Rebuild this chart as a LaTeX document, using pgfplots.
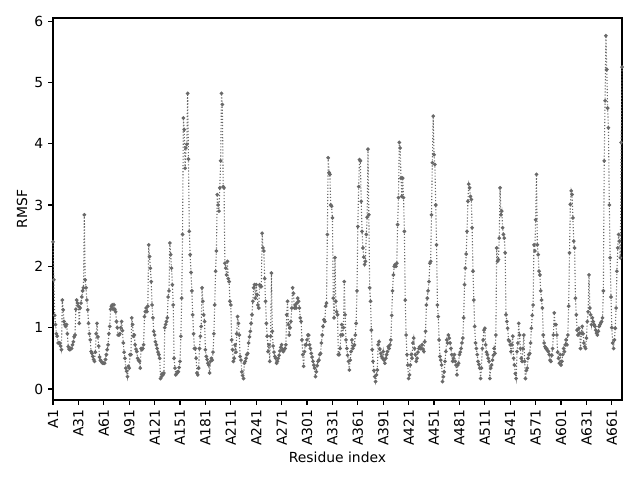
\documentclass[border=0pt]{standalone}
\usepackage{fontspec}
\setmainfont{DejaVu Sans}
\usepackage{pgfplots}
\pgfplotsset{compat=1.18}
\definecolor{linegray}{RGB}{105,105,105}
\begin{document}
\begin{tikzpicture}
\useasboundingbox (-38.16pt,-57.6pt) rectangle (422.64pt,288pt);
\begin{axis}[
  at={(0,0)}, anchor=south west,
  scale only axis,
  width=409.68pt, height=275.04pt,
  xmin=0, xmax=672,
  ymin=-0.18, ymax=6.05,
  xtick={0,30,...,660},
  xticklabels={A1,A31,A61,A91,A121,A151,A181,A211,A241,A271,A301,A331,A361,A391,A421,A451,A481,A511,A541,A571,A601,A631,A661},
  ytick={0,1,2,3,4,5,6},
  tick align=outside,
  tick pos=left,
  major tick length=3.5pt,
  axis line style={line width=0.8pt},
  every tick/.style={black, line width=0.8pt},
  /pgf/number format/assume math mode=true,
  tick label style={font=\fontsize{10}{12}\selectfont},
  xticklabel style={rotate=90, anchor=east, inner sep=0pt, outer sep=3.5pt},
  yticklabel style={inner sep=0pt, outer sep=3.5pt},
  label style={font=\fontsize{10}{12}\selectfont},
  xlabel={Residue index},
  ylabel={RMSF},
  xlabel style={at={(axis description cs:0.5,-0.149)}, anchor=center},
  ylabel style={at={(axis description cs:-0.0545,0.5)}, anchor=center},
  clip=false,
]
\addplot[linegray, line width=0.8pt, dash pattern=on 0.8pt off 1.4pt, mark=*, mark size=0.9pt, mark options={solid, fill=linegray, draw=linegray}] coordinates {
(0,2.4)(1,1.78)(2,1.2)(3,1.05)(4,0.9)(5,0.86)(6,0.75)(7,0.75)(8,0.75)(9,0.7)
(10,0.64)(11,1.45)(12,1.29)(13,1.1)(14,1.05)(15,1.02)(16,1.05)(17,0.9)(18,0.69)(19,0.65)
(20,0.64)(21,0.66)(22,0.66)(23,0.72)(24,0.77)(25,0.85)(26,0.88)(27,1.3)(28,1.45)(29,1.4)
(30,1.35)(31,1.07)(32,1.32)(33,1.4)(34,1.5)(35,1.6)(36,1.65)(37,2.84)(38,1.78)(39,1.65)
(40,1.45)(41,1.29)(42,1.07)(43,0.9)(44,0.8)(45,0.61)(46,0.58)(47,0.53)(48,0.48)(49,0.45)
(50,0.6)(51,0.9)(52,1.07)(53,0.85)(54,0.7)(55,0.52)(56,0.47)(57,0.45)(58,0.43)(59,0.42)
(60,0.42)(61,0.42)(62,0.48)(63,0.56)(64,0.64)(65,0.72)(66,0.9)(67,1.02)(68,1.3)(69,1.35)
(70,1.37)(71,1.3)(72,1.37)(73,1.3)(74,1.26)(75,1.1)(76,1.0)(77,0.88)(78,0.88)(79,0.9)
(80,1.0)(81,1.1)(82,0.95)(83,0.75)(84,0.6)(85,0.5)(86,0.34)(87,0.29)(88,0.2)(89,0.37)
(90,0.34)(91,0.56)(92,0.56)(93,1.16)(94,1.05)(95,0.86)(96,0.88)(97,0.72)(98,0.65)(99,0.61)
(100,0.5)(101,0.47)(102,0.45)(103,0.34)(104,0.66)(105,0.64)(106,0.66)(107,0.72)(108,1.18)(109,1.26)
(110,1.32)(111,1.26)(112,1.35)(113,2.35)(114,2.16)(115,1.97)(116,1.75)(117,1.37)(118,1.16)(119,0.94)
(120,0.88)(121,0.77)(122,0.72)(123,0.66)(124,0.6)(125,0.56)(126,0.5)(127,0.17)(128,0.2)(129,0.25)
(130,0.23)(131,0.26)(132,1.0)(133,1.05)(134,1.1)(135,1.16)(136,1.5)(137,1.6)(138,2.38)(139,2.19)
(140,1.97)(141,1.7)(142,1.37)(143,0.5)(144,0.34)(145,0.23)(146,0.25)(147,0.28)(148,0.28)(149,0.35)
(150,0.45)(151,0.86)(152,1.48)(153,2.52)(154,4.42)(155,4.23)(156,3.6)(157,3.93)(158,3.99)(159,4.82)
(160,3.75)(161,2.57)(162,2.19)(163,1.9)(164,1.6)(165,1.21)(166,0.9)(167,0.66)(168,0.66)(169,0.5)
(170,0.26)(171,0.23)(172,0.34)(173,0.66)(174,0.86)(175,1.02)(176,1.65)(177,1.43)(178,1.21)(179,1.1)
(180,0.64)(181,0.53)(182,0.48)(183,0.42)(184,0.39)(185,0.26)(186,0.45)(187,0.5)(188,0.47)(189,0.6)
(190,0.9)(191,1.37)(192,1.92)(193,2.25)(194,3.17)(195,3.0)(196,2.9)(197,3.28)(198,3.72)(199,4.82)
(200,4.64)(201,3.3)(202,3.28)(203,2.05)(204,1.97)(205,1.86)(206,2.08)(207,1.8)(208,1.75)(209,1.43)
(210,1.37)(211,0.8)(212,0.64)(213,0.45)(214,0.5)(215,0.72)(216,0.6)(217,0.9)(218,1.18)(219,1.07)
(220,0.88)(221,0.53)(222,0.47)(223,0.28)(224,0.22)(225,0.17)(226,0.42)(227,0.45)(228,0.5)(229,0.56)
(230,0.58)(231,0.75)(232,0.85)(233,0.94)(234,1.07)(235,1.21)(236,1.43)(237,1.65)(238,1.7)(239,1.48)
(240,1.7)(241,1.54)(242,1.37)(243,1.32)(244,1.7)(245,1.67)(246,1.67)(247,2.54)(248,2.3)(249,2.25)
(250,1.8)(251,1.43)(252,1.07)(253,0.86)(254,0.61)(255,0.72)(256,0.45)(257,0.86)(258,1.89)(259,0.94)
(260,0.7)(261,0.6)(262,0.53)(263,0.5)(264,0.42)(265,0.45)(266,0.5)(267,0.55)(268,0.62)(269,0.68)
(270,0.72)(271,0.64)(272,0.61)(273,0.64)(274,0.66)(275,0.72)(276,1.21)(277,1.43)(278,1.05)(279,0.88)
(280,1.0)(281,1.1)(282,1.32)(283,1.65)(284,1.56)(285,1.32)(286,1.37)(287,1.32)(288,1.4)(289,1.48)
(290,1.43)(291,1.32)(292,1.16)(293,1.1)(294,0.8)(295,0.56)(296,0.37)(297,0.61)(298,0.72)(299,0.72)
(300,0.8)(301,0.88)(302,0.88)(303,0.72)(304,0.66)(305,0.58)(306,0.52)(307,0.45)(308,0.39)(309,0.34)
(310,0.2)(311,0.28)(312,0.38)(313,0.45)(314,0.47)(315,0.56)(316,0.58)(317,0.75)(318,0.88)(319,1.02)
(320,1.13)(321,1.1)(322,1.35)(323,1.4)(324,2.52)(325,3.77)(326,3.53)(327,3.5)(328,3.0)(329,2.98)
(330,2.79)(331,1.48)(332,1.16)(333,2.14)(334,1.43)(335,1.26)(336,1.21)(337,0.56)(338,0.56)(339,0.66)
(340,0.88)(341,1.05)(342,0.88)(343,1.0)(344,1.75)(345,1.21)(346,0.8)(347,0.66)(348,0.55)(349,0.45)
(350,0.31)(351,0.47)(352,0.61)(353,0.8)(354,0.66)(355,0.7)(356,0.72)(357,0.88)(358,1.07)(359,1.6)
(360,2.65)(361,3.3)(362,3.74)(363,3.72)(364,3.06)(365,2.57)(366,2.3)(367,2.15)(368,2.03)(369,2.08)
(370,2.52)(371,2.8)(372,3.91)(373,2.84)(374,1.65)(375,1.43)(376,0.96)(377,0.64)(378,0.45)(379,0.3)
(380,0.2)(381,0.12)(382,0.23)(383,0.31)(384,0.72)(385,0.77)(386,0.65)(387,0.58)(388,0.53)(389,0.5)
(390,0.61)(391,0.47)(392,0.42)(393,0.5)(394,0.56)(395,0.61)(396,0.69)(397,0.66)(398,0.72)(399,0.8)
(400,1.2)(401,1.6)(402,1.86)(403,2.0)(404,2.03)(405,2.0)(406,2.05)(407,2.68)(408,3.12)(409,4.02)
(410,3.93)(411,3.44)(412,3.14)(413,3.44)(414,3.12)(415,2.57)(416,1.45)(417,0.88)(418,0.56)(419,0.39)
(420,0.17)(421,0.23)(422,0.39)(423,0.56)(424,0.5)(425,0.75)(426,0.83)(427,0.66)(428,0.56)(429,0.45)
(430,0.5)(431,0.6)(432,0.66)(433,0.69)(434,0.66)(435,0.66)(436,0.72)(437,0.65)(438,0.61)(439,0.77)
(440,0.94)(441,1.37)(442,1.48)(443,1.6)(444,1.75)(445,2.05)(446,2.08)(447,2.84)(448,3.69)(449,4.45)
(450,3.82)(451,3.66)(452,3.0)(453,2.35)(454,1.37)(455,1.18)(456,0.8)(457,0.53)(458,0.47)(459,0.39)
(460,0.12)(461,0.2)(462,0.28)(463,0.45)(464,0.61)(465,0.8)(466,0.75)(467,0.88)(468,0.83)(469,0.75)
(470,0.66)(471,0.56)(472,0.45)(473,0.5)(474,0.56)(475,0.45)(476,0.39)(477,0.23)(478,0.39)(479,0.42)
(480,0.56)(481,0.6)(482,0.66)(483,0.75)(484,0.83)(485,1.16)(486,1.7)(487,1.97)(488,2.2)(489,2.57)
(490,3.06)(491,3.34)(492,3.28)(493,3.14)(494,3.09)(495,2.63)(496,1.92)(497,1.45)(498,1.02)(499,0.75)
(500,0.66)(501,0.56)(502,0.45)(503,0.4)(504,0.34)(505,0.17)(506,0.34)(507,0.66)(508,0.8)(509,0.96)
(510,0.99)(511,0.72)(512,0.6)(513,0.56)(514,0.5)(515,0.45)(516,0.17)(517,0.34)(518,0.39)(519,0.47)
(520,0.55)(521,0.66)(522,0.58)(523,0.88)(524,2.3)(525,2.08)(526,2.11)(527,2.46)(528,3.28)(529,2.84)
(530,2.9)(531,2.63)(532,2.52)(533,2.46)(534,2.22)(535,1.21)(536,1.1)(537,0.99)(538,0.8)(539,0.78)
(540,0.72)(541,0.61)(542,0.72)(543,0.86)(544,0.5)(545,0.39)(546,0.25)(547,0.17)(548,0.61)(549,0.75)
(550,1.07)(551,0.88)(552,0.66)(553,0.5)(554,0.45)(555,0.66)(556,0.88)(557,0.45)(558,0.17)(559,0.3)
(560,0.34)(561,0.5)(562,0.56)(563,0.58)(564,0.75)(565,0.99)(566,1.2)(567,1.37)(568,2.35)(569,2.25)
(570,2.76)(571,3.5)(572,2.35)(573,2.19)(574,1.92)(575,1.86)(576,1.6)(577,1.45)(578,1.32)(579,0.88)
(580,0.75)(581,0.69)(582,0.66)(583,0.66)(584,0.63)(585,0.61)(586,0.56)(587,0.47)(588,0.45)(589,0.55)
(590,0.66)(591,0.88)(592,1.24)(593,1.05)(594,1.05)(595,0.88)(596,0.6)(597,0.5)(598,0.42)(599,0.56)
(600,0.39)(601,0.45)(602,0.56)(603,0.66)(604,0.61)(605,0.72)(606,0.8)(607,0.72)(608,0.88)(609,1.35)
(610,2.22)(611,3.01)(612,3.23)(613,3.17)(614,2.79)(615,2.41)(616,2.3)(617,1.48)(618,1.21)(619,0.96)
(620,0.88)(621,0.99)(622,0.91)(623,0.66)(624,0.91)(625,1.02)(626,0.9)(627,0.75)(628,0.69)(629,0.66)
(630,0.83)(631,1.1)(632,1.26)(633,1.86)(634,1.32)(635,1.21)(636,1.05)(637,1.16)(638,1.1)(639,1.05)
(640,1.02)(641,0.96)(642,0.91)(643,0.88)(644,0.94)(645,1.02)(646,1.05)(647,1.08)(648,1.1)(649,1.16)
(650,1.6)(651,3.72)(652,4.7)(653,5.76)(654,5.21)(655,4.58)(656,4.26)(657,3.0)(658,2.14)(659,1.5)
(660,1.0)(661,0.75)(662,0.66)(663,0.8)(664,0.99)(665,1.32)(666,1.92)(667,2.3)(668,2.52)(669,2.41)
(670,2.14)(671,4.02)(672,5.25)
};
\end{axis}
\end{tikzpicture}
\end{document}
